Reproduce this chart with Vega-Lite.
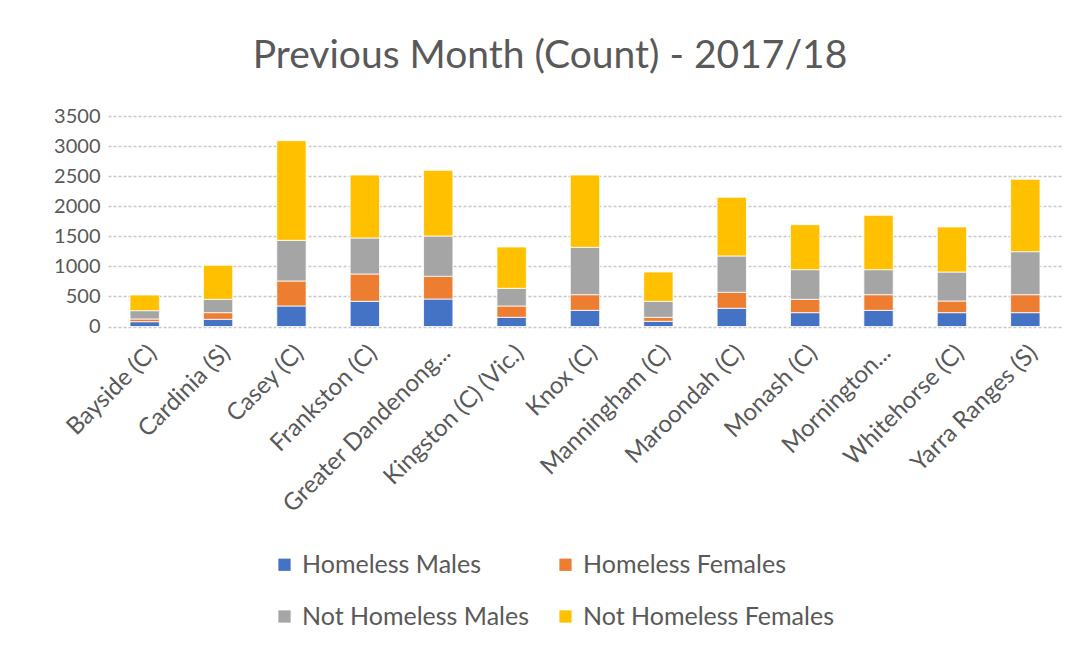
{
  "$schema": "https://vega.github.io/schema/vega-lite/v6.json",
  "width": 954,
  "height": 210.5,
  "autosize": "none",
  "padding": {"left": 108, "top": 116, "right": 18, "bottom": 325.5},
  "background": "white",
  "title": {
    "text": "Previous Month (Count) - 2017/18",
    "font": "Lato",
    "fontSize": 39,
    "fontWeight": "normal",
    "color": "#595959",
    "anchor": "middle",
    "dx": -35,
    "offset": 30
  },
  "data": {
    "values": [
      {"m": "Bayside (C)", "s": "Homeless Males", "o": 1, "v": 80},
      {"m": "Bayside (C)", "s": "Homeless Females", "o": 2, "v": 45},
      {"m": "Bayside (C)", "s": "Not Homeless Males", "o": 3, "v": 138},
      {"m": "Bayside (C)", "s": "Not Homeless Females", "o": 4, "v": 261},
      {"m": "Cardinia (S)", "s": "Homeless Males", "o": 1, "v": 120},
      {"m": "Cardinia (S)", "s": "Homeless Females", "o": 2, "v": 110},
      {"m": "Cardinia (S)", "s": "Not Homeless Males", "o": 3, "v": 222},
      {"m": "Cardinia (S)", "s": "Not Homeless Females", "o": 4, "v": 566},
      {"m": "Casey (C)", "s": "Homeless Males", "o": 1, "v": 341},
      {"m": "Casey (C)", "s": "Homeless Females", "o": 2, "v": 416},
      {"m": "Casey (C)", "s": "Not Homeless Males", "o": 3, "v": 676},
      {"m": "Casey (C)", "s": "Not Homeless Females", "o": 4, "v": 1657},
      {"m": "Frankston (C)", "s": "Homeless Males", "o": 1, "v": 419},
      {"m": "Frankston (C)", "s": "Homeless Females", "o": 2, "v": 454},
      {"m": "Frankston (C)", "s": "Not Homeless Males", "o": 3, "v": 599},
      {"m": "Frankston (C)", "s": "Not Homeless Females", "o": 4, "v": 1047},
      {"m": "Greater Dandenong (C)", "s": "Homeless Males", "o": 1, "v": 457},
      {"m": "Greater Dandenong (C)", "s": "Homeless Females", "o": 2, "v": 378},
      {"m": "Greater Dandenong (C)", "s": "Not Homeless Males", "o": 3, "v": 670},
      {"m": "Greater Dandenong (C)", "s": "Not Homeless Females", "o": 4, "v": 1092},
      {"m": "Kingston (C) (Vic.)", "s": "Homeless Males", "o": 1, "v": 153},
      {"m": "Kingston (C) (Vic.)", "s": "Homeless Females", "o": 2, "v": 188},
      {"m": "Kingston (C) (Vic.)", "s": "Not Homeless Males", "o": 3, "v": 294},
      {"m": "Kingston (C) (Vic.)", "s": "Not Homeless Females", "o": 4, "v": 687},
      {"m": "Knox (C)", "s": "Homeless Males", "o": 1, "v": 269},
      {"m": "Knox (C)", "s": "Homeless Females", "o": 2, "v": 260},
      {"m": "Knox (C)", "s": "Not Homeless Males", "o": 3, "v": 788},
      {"m": "Knox (C)", "s": "Not Homeless Females", "o": 4, "v": 1202},
      {"m": "Manningham (C)", "s": "Homeless Males", "o": 1, "v": 86},
      {"m": "Manningham (C)", "s": "Homeless Females", "o": 2, "v": 67},
      {"m": "Manningham (C)", "s": "Not Homeless Males", "o": 3, "v": 266},
      {"m": "Manningham (C)", "s": "Not Homeless Females", "o": 4, "v": 487},
      {"m": "Maroondah (C)", "s": "Homeless Males", "o": 1, "v": 303},
      {"m": "Maroondah (C)", "s": "Homeless Females", "o": 2, "v": 266},
      {"m": "Maroondah (C)", "s": "Not Homeless Males", "o": 3, "v": 604},
      {"m": "Maroondah (C)", "s": "Not Homeless Females", "o": 4, "v": 975},
      {"m": "Monash (C)", "s": "Homeless Males", "o": 1, "v": 230},
      {"m": "Monash (C)", "s": "Homeless Females", "o": 2, "v": 222},
      {"m": "Monash (C)", "s": "Not Homeless Males", "o": 3, "v": 493},
      {"m": "Monash (C)", "s": "Not Homeless Females", "o": 4, "v": 748},
      {"m": "Mornington Peninsula (S)", "s": "Homeless Males", "o": 1, "v": 269},
      {"m": "Mornington Peninsula (S)", "s": "Homeless Females", "o": 2, "v": 260},
      {"m": "Mornington Peninsula (S)", "s": "Not Homeless Males", "o": 3, "v": 416},
      {"m": "Mornington Peninsula (S)", "s": "Not Homeless Females", "o": 4, "v": 904},
      {"m": "Whitehorse (C)", "s": "Homeless Males", "o": 1, "v": 230},
      {"m": "Whitehorse (C)", "s": "Homeless Females", "o": 2, "v": 194},
      {"m": "Whitehorse (C)", "s": "Not Homeless Males", "o": 3, "v": 482},
      {"m": "Whitehorse (C)", "s": "Not Homeless Females", "o": 4, "v": 749},
      {"m": "Yarra Ranges (S)", "s": "Homeless Males", "o": 1, "v": 230},
      {"m": "Yarra Ranges (S)", "s": "Homeless Females", "o": 2, "v": 299},
      {"m": "Yarra Ranges (S)", "s": "Not Homeless Males", "o": 3, "v": 715},
      {"m": "Yarra Ranges (S)", "s": "Not Homeless Females", "o": 4, "v": 1204}
    ]
  },
  "mark": {"type": "bar", "stroke": "white", "strokeWidth": 0.8},
  "encoding": {
    "x": {
      "field": "m",
      "type": "nominal",
      "sort": null,
      "title": null,
      "scale": {"paddingInner": 0.6, "paddingOuter": 0.3},
      "axis": {
        "labelAngle": -45,
        "labelFont": "Lato",
        "labelFontSize": 24,
        "labelColor": "#595959",
        "labelPadding": 14,
        "labelExpr": "datum.label == 'Greater Dandenong (C)' ? 'Greater Dandenong...' : datum.label == 'Mornington Peninsula (S)' ? 'Mornington...' : datum.label",
        "ticks": false,
        "domain": false,
        "labelLimit": 400
      }
    },
    "y": {
      "field": "v",
      "type": "quantitative",
      "stack": "zero",
      "title": null,
      "scale": {"domain": [0, 3500], "nice": false},
      "axis": {
        "values": [0, 500, 1000, 1500, 2000, 2500, 3000, 3500],
        "format": "d",
        "labelFont": "Lato",
        "labelFontSize": 20,
        "labelColor": "#595959",
        "labelPadding": 8,
        "ticks": false,
        "domain": false,
        "grid": true,
        "gridColor": "#c8c8c8",
        "gridWidth": 1.5,
        "gridDash": [3, 2]
      }
    },
    "color": {
      "field": "s",
      "type": "nominal",
      "scale": {
        "domain": ["Homeless Males", "Homeless Females", "Not Homeless Males", "Not Homeless Females"],
        "range": ["#4472C4", "#ED7D31", "#A5A5A5", "#FFC000"]
      },
      "legend": {
        "title": null,
        "orient": "none",
        "legendX": 164,
        "legendY": 436,
        "columns": 2,
        "direction": "horizontal",
        "gridAlign": "each",
        "columnPadding": 24,
        "rowPadding": 26,
        "symbolType": "square",
        "symbolSize": 150,
        "symbolStrokeWidth": 0,
        "symbolOffset": 0,
        "labelOffset": 5,
        "labelFont": "Lato",
        "labelFontSize": 25,
        "labelColor": "#595959",
        "labelLimit": 400
      }
    },
    "order": {"field": "o", "type": "quantitative", "sort": "ascending"}
  },
  "config": {"view": {"stroke": null}}
}
